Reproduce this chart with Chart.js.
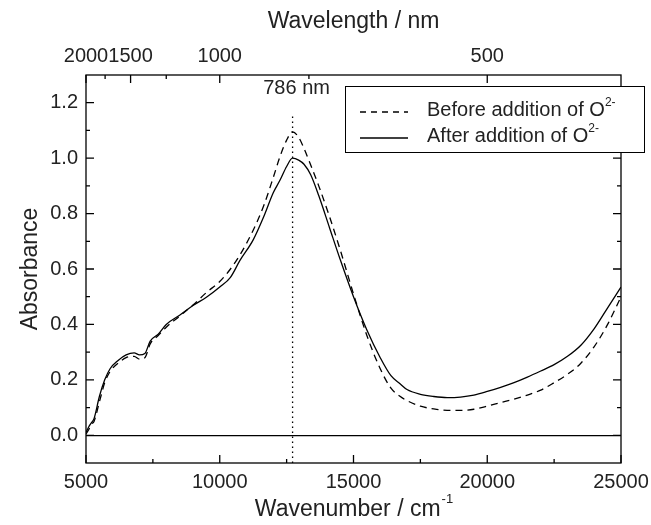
<!DOCTYPE html>
<html>
<head>
<meta charset="utf-8">
<script src="https://cdn.jsdelivr.net/npm/chart.js@4.4.0/dist/chart.umd.min.js"></script>
<style>
  html, body { margin: 0; padding: 0; background: #fff; }
  #wrap { width: 651px; height: 525px; }
</style>
</head>
<body>
<div id="wrap"><canvas id="absChart"></canvas></div>
<script>
// wavenumber (cm-1) and absorbance
const wavenumbers = [5000, 5100, 5200, 5300, 5500, 5700, 5900, 6200, 6500, 6800, 7000, 7200, 7400, 7700,
  8000, 8500, 9000, 9500, 10000, 10400, 10750, 11250, 11650, 12000, 12250, 12500, 12722, 12950, 13150,
  13400, 13700, 14100, 14500, 15000, 15500, 16000, 16400, 16750, 17000, 17500, 18000, 18500, 19000, 19500,
  20000, 20500, 21000, 21500, 22000, 22500, 23000, 23500, 24000, 24500, 25000];
const absBefore = [0.005, 0.02, 0.04, 0.05, 0.12, 0.19, 0.23, 0.26, 0.28, 0.285, 0.275, 0.28, 0.33, 0.36,
  0.39, 0.43, 0.47, 0.515, 0.555, 0.6, 0.65, 0.74, 0.83, 0.93, 1.005, 1.065, 1.095, 1.075, 1.035,
  0.975, 0.9, 0.79, 0.67, 0.51, 0.36, 0.24, 0.17, 0.14, 0.125, 0.105, 0.095, 0.09, 0.09, 0.094,
  0.105, 0.118, 0.13, 0.145, 0.163, 0.19, 0.22, 0.26, 0.32, 0.4, 0.5];
const absAfter = [0.01, 0.03, 0.045, 0.06, 0.14, 0.2, 0.24, 0.27, 0.29, 0.297, 0.29, 0.295, 0.34, 0.365,
  0.4, 0.433, 0.468, 0.498, 0.535, 0.57, 0.63, 0.705, 0.79, 0.875, 0.92, 0.97, 1.0, 0.993, 0.978,
  0.94, 0.865, 0.75, 0.635, 0.5, 0.38, 0.28, 0.215, 0.185, 0.165, 0.148, 0.14, 0.136, 0.138, 0.145,
  0.158, 0.173, 0.19, 0.21, 0.232, 0.255, 0.285, 0.325, 0.385, 0.46, 0.535];

const xMajor = [5000, 10000, 15000, 20000, 25000];
const xMinor = [7500, 12500, 17500, 22500];
const yMajor = [0, 0.2, 0.4, 0.6, 0.8, 1.0, 1.2];
const yMinor = [0.1, 0.3, 0.5, 0.7, 0.9, 1.1];
const wavelengthMajor = [2000, 1500, 1000, 500];
const wavelengthMinor = [1750, 1250, 750];
const peakNm = 786;
const peakLineTop = 1.16;

const legendLabels = ['Before addition of O', 'After addition of O'];
const FONT = '"Liberation Sans", Arial, sans-serif';
const INK = '#222';

function toPairs(ys) {
  return wavenumbers.map((x, i) => ({ x: x, y: ys[i] }));
}

const peakWn = 1e7 / peakNm;

// frame, inward ticks, labels, legend
const decorations = {
  id: 'decorations',
  afterDraw(chart) {
    const ctx = chart.ctx;
    const a = chart.chartArea;
    const xs = chart.scales.x, ys = chart.scales.y;
    ctx.save();
    ctx.strokeStyle = '#000';
    ctx.lineWidth = 1.3;
    ctx.strokeRect(a.left, a.top, a.right - a.left, a.bottom - a.top);

    ctx.beginPath();
    const tick = (x1, y1, x2, y2) => { ctx.moveTo(x1, y1); ctx.lineTo(x2, y2); };
    xMajor.forEach(v => { const p = xs.getPixelForValue(v); tick(p, a.bottom, p, a.bottom - 8); });
    xMinor.forEach(v => { const p = xs.getPixelForValue(v); tick(p, a.bottom, p, a.bottom - 4); });
    wavelengthMajor.forEach(l => { const p = xs.getPixelForValue(1e7 / l); tick(p, a.top, p, a.top + 8); });
    wavelengthMinor.forEach(l => { const p = xs.getPixelForValue(1e7 / l); tick(p, a.top, p, a.top + 4); });
    yMajor.forEach(v => {
      const p = ys.getPixelForValue(v);
      tick(a.left, p, a.left + 8, p); tick(a.right, p, a.right - 8, p);
    });
    yMinor.forEach(v => {
      const p = ys.getPixelForValue(v);
      tick(a.left, p, a.left + 4, p); tick(a.right, p, a.right - 4, p);
    });
    ctx.stroke();

    // peak label
    ctx.fillStyle = INK;
    ctx.font = '20px ' + FONT;
    ctx.textAlign = 'center';
    ctx.textBaseline = 'middle';
    ctx.fillText(peakNm + ' nm', xs.getPixelForValue(peakWn) + 4, 88);

    // bottom title with superscript
    const main = 'Wavenumber / cm';
    ctx.font = '13px ' + FONT;
    const supW = ctx.measureText('-1').width;
    ctx.font = '23px ' + FONT;
    const mainW = ctx.measureText(main).width;
    const cx = (a.left + a.right) / 2;
    const x0 = cx - (mainW + supW) / 2;
    ctx.textAlign = 'left';
    ctx.textBaseline = 'alphabetic';
    ctx.fillText(main, x0, 516);
    ctx.font = '13px ' + FONT;
    ctx.fillText('-1', x0 + mainW + 1, 503);

    // legend
    const bx = 345, by = 86, bw = 299, bh = 66;
    ctx.fillStyle = '#fff';
    ctx.fillRect(bx, by, bw, bh);
    ctx.strokeStyle = '#000';
    ctx.lineWidth = 1;
    ctx.strokeRect(bx + 0.5, by + 0.5, bw, bh);
    const rows = [{ y: 112, dash: [6, 5] }, { y: 138, dash: [] }];
    rows.forEach((r, i) => {
      ctx.beginPath();
      ctx.setLineDash(r.dash);
      ctx.lineWidth = 1.3;
      ctx.moveTo(360, r.y);
      ctx.lineTo(408, r.y);
      ctx.stroke();
      ctx.setLineDash([]);
      ctx.fillStyle = INK;
      ctx.font = '20px ' + FONT;
      ctx.fillText(legendLabels[i], 427, r.y + 4);
      const w = ctx.measureText(legendLabels[i]).width;
      ctx.font = '12px ' + FONT;
      ctx.fillText('2-', 427 + w, r.y - 6);
    });
    ctx.restore();
  }
};

function noSidePad(s) {
  s.paddingLeft = 0;
  s.paddingRight = 0;
}

const config = {
  type: 'scatter',
  data: {
    datasets: [
      {
        label: 'Before addition of O2-',
        data: toPairs(absBefore),
        showLine: true,
        borderColor: '#000',
        borderWidth: 1.3,
        borderDash: [7, 5],
        pointRadius: 0,
        cubicInterpolationMode: 'monotone'
      },
      {
        label: 'After addition of O2-',
        data: toPairs(absAfter),
        showLine: true,
        borderColor: '#000',
        borderWidth: 1.3,
        pointRadius: 0,
        cubicInterpolationMode: 'monotone'
      },
      {
        label: peakNm + ' nm',
        data: [{ x: peakWn, y: -0.1 }, { x: peakWn, y: peakLineTop }],
        showLine: true,
        borderColor: '#000',
        borderWidth: 1.3,
        borderDash: [1.5, 3.5],
        pointRadius: 0
      }
    ]
  },
  options: {
    responsive: true,
    maintainAspectRatio: false,
    animation: false,
    layout: { padding: { left: 0, right: 30, top: 0, bottom: 0 } },
    plugins: { legend: { display: false }, tooltip: { enabled: false } },
    scales: {
      x: {
        type: 'linear',
        position: 'bottom',
        min: 5000,
        max: 25000,
        afterBuildTicks: s => { s.ticks = xMajor.map(v => ({ value: v })); },
        afterFit: s => { s.height = 62; noSidePad(s); },
        grid: { display: false, drawTicks: false },
        border: { display: false },
        ticks: {
          color: INK, font: { family: FONT, size: 20 }, padding: 7,
          maxRotation: 0, minRotation: 0, autoSkip: false,
          callback: v => String(v)
        }
      },
      x2: {
        type: 'linear',
        position: 'top',
        min: 5000,
        max: 25000,
        afterBuildTicks: s => { s.ticks = wavelengthMajor.map(l => ({ value: 1e7 / l })); },
        afterFit: s => { s.height = 75; noSidePad(s); },
        grid: { display: false, drawTicks: false },
        border: { display: false },
        title: {
          display: true, text: 'Wavelength / nm', color: INK,
          font: { family: FONT, size: 23 }, padding: { top: 8, bottom: 0 }
        },
        ticks: {
          color: INK, font: { family: FONT, size: 20 }, padding: 7,
          maxRotation: 0, minRotation: 0, autoSkip: false,
          callback: v => String(Math.round(1e7 / v))
        }
      },
      y: {
        type: 'linear',
        position: 'left',
        min: -0.1,
        max: 1.3,
        afterBuildTicks: s => { s.ticks = yMajor.map(v => ({ value: v })); },
        afterFit: s => { s.width = 86; },
        grid: {
          drawTicks: false,
          lineWidth: 1.3,
          color: c => (c.tick && c.tick.value === 0 ? '#000' : 'rgba(0,0,0,0)')
        },
        border: { display: false },
        title: {
          display: true, text: 'Absorbance', color: INK,
          font: { family: FONT, size: 23 }, padding: { top: 17, bottom: 0 }
        },
        ticks: {
          color: INK, font: { family: FONT, size: 20 }, padding: 8,
          callback: v => v.toFixed(1)
        }
      }
    }
  },
  plugins: [decorations]
};

new Chart(document.getElementById('absChart'), config);
</script>
</body>
</html>
